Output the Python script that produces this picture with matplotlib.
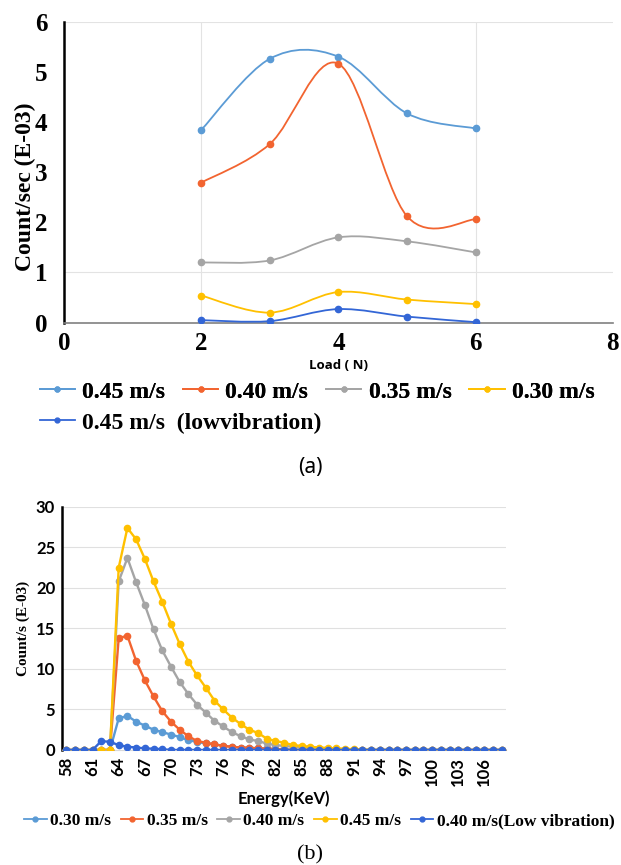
import numpy as np
import matplotlib
matplotlib.use("Agg")
import matplotlib.pyplot as plt
from matplotlib.path import Path
from matplotlib.patches import PathPatch
from matplotlib.lines import Line2D

# ---- data: panel (a), count rate vs load ----
load = [2, 3, 4, 5, 6]
a_labels = ["0.45 m/s", "0.40 m/s", "0.35 m/s", "0.30 m/s", "0.45 m/s  (lowvibration)"]
a_045 = [3.84, 5.26, 5.30, 4.17, 3.87]
a_040 = [2.79, 3.56, 5.16, 2.12, 2.06]
a_035 = [1.20, 1.24, 1.70, 1.62, 1.40]
a_030 = [0.54, 0.20, 0.61, 0.46, 0.37]
a_045_low = [0.05, 0.03, 0.27, 0.12, 0.01]

# ---- data: panel (b), spectrum vs energy ----
energy = list(range(58, 109))
b_labels = ["0.30 m/s", "0.35 m/s", "0.40 m/s", "0.45 m/s", "0.40 m/s(Low vibration)"]
b_030 = [0, 0, 0, 0, 0, 0, 3.9, 4.2, 3.5, 3.0, 2.5, 2.2, 1.9, 1.6, 1.2, 1.0,
         0.8, 0.7, 0.5, 0.4, 0.3, 0.3, 0.2, 0.2, 0.1, 0.1] + [0] * 25
b_035 = [0, 0, 0, 0, 0, 0, 13.8, 14.1, 11.0, 8.6, 6.6, 4.8, 3.5, 2.5, 1.7, 1.1,
         0.9, 0.7, 0.5, 0.4, 0.3, 0.25, 0.2, 0.15, 0.1, 0.05] + [0] * 25
b_040 = [0, 0, 0, 0, 0, 0, 20.8, 23.7, 20.7, 17.9, 14.9, 12.3, 10.3, 8.4, 6.9,
         5.6, 4.6, 3.6, 2.9, 2.2, 1.7, 1.3, 1.1, 0.8, 0.6, 0.5, 0.4, 0.3, 0.2,
         0.15, 0.1, 0.05] + [0] * 19
b_045 = [0, 0, 0, 0, 0, 0, 22.5, 27.4, 26.0, 23.6, 20.8, 18.3, 15.6, 13.1, 10.9,
         9.2, 7.7, 6.1, 5.0, 4.0, 3.2, 2.5, 2.1, 1.4, 1.1, 0.9, 0.6, 0.5, 0.4,
         0.3, 0.25, 0.2, 0.15, 0.1, 0.05] + [0] * 16
b_040_low = [0, 0, 0, 0, 1.1, 1.0, 0.6, 0.4, 0.3, 0.2, 0.15, 0.1] + [0] * 39
b_ticks = list(range(58, 107, 3))

colors = ["#5B9BD5", "#F26430", "#A5A5A5", "#FFC000", "#3366D6"]
serif = "Liberation Serif"


def smooth_path(x, y):
    # bezier path through points (like a smoothed office line)
    verts = [(x[0], y[0])]
    codes = [Path.MOVETO]
    n = len(x)
    for i in range(n - 1):
        p0 = i - 1 if i > 0 else i
        p3 = i + 2 if i + 2 < n else i + 1
        c1 = (x[i] + (x[i + 1] - x[p0]) / 6, y[i] + (y[i + 1] - y[p0]) / 6)
        c2 = (x[i + 1] - (x[p3] - x[i]) / 6, y[i + 1] - (y[p3] - y[i]) / 6)
        verts += [c1, c2, (x[i + 1], y[i + 1])]
        codes += [Path.CURVE4] * 3
    return Path(verts, codes)


fig = plt.figure(figsize=(6.21, 8.65), dpi=100)

# ---------------- panel (a) ----------------
ax1 = fig.add_axes([0.103, 0.627, 0.884, 0.348])
a_series = [a_045, a_040, a_035, a_030, a_045_low]
handles = []
for vals, c, lab in zip(a_series, colors, a_labels):
    ax1.add_patch(PathPatch(smooth_path(load, vals), fc="none", ec=c, lw=1.3, zorder=3))
    ax1.plot(load, vals, "o", color=c, ms=4.5, zorder=4)
    handles.append(Line2D([], [], color=c, lw=1.3, marker="o", ms=3.5))

ax1.set_xlim(0, 8)
ax1.set_ylim(0, 6)
ax1.set_xticks([0, 2, 4, 6, 8])
ax1.set_yticks([0, 1, 2, 3, 4, 5, 6])
for x in [2, 6]:
    ax1.axvline(x, color="#E3E3E3", lw=0.8, zorder=0)
for y in [1, 6]:
    ax1.axhline(y, color="#E3E3E3", lw=0.8, zorder=0)
for s in ["top", "right"]:
    ax1.spines[s].set_visible(False)
ax1.spines["left"].set_color("black")
ax1.spines["left"].set_linewidth(1.8)
ax1.spines["bottom"].set_color("#808080")
ax1.spines["bottom"].set_linewidth(1.2)
ax1.tick_params(axis="y", length=0, pad=12)
ax1.tick_params(axis="x", length=0, pad=7)
for t in ax1.get_xticklabels() + ax1.get_yticklabels():
    t.set_fontfamily(serif)
    t.set_fontweight("bold")
    t.set_fontsize(18)
ax1.set_xlabel("Load ( N)", fontsize=9.5, fontweight="bold", family="Open Sans")
ax1.xaxis.set_label_coords(0.5, -0.122)
ax1.set_ylabel("Count/sec (E-03)", fontsize=17, fontweight="bold", family=serif)
ax1.yaxis.label.set_va("center")
ax1.yaxis.set_label_coords(-0.07, 0.45)

leg_a = dict(frameon=False, prop={"family": serif, "weight": "bold", "size": 17},
             handlelength=1.5, handletextpad=0.3, borderpad=0)
lg1 = fig.legend(handles[:4], a_labels[:4], loc="center left",
                 bbox_to_anchor=(0.045, 0.547), ncol=4, columnspacing=0.75, **leg_a)
fig.add_artist(lg1)
fig.legend(handles[4:], a_labels[4:], loc="center left",
           bbox_to_anchor=(0.045, 0.511), **leg_a)
fig.text(0.5, 0.459, "(a)", ha="center", va="center", fontsize=15, family="Noto Sans")

# ---------------- panel (b) ----------------
ax2 = fig.add_axes([0.1, 0.133, 0.715, 0.281])
idx = np.arange(len(energy))
b_series = [b_030, b_035, b_040, b_045, b_040_low]
handles2 = []
for vals, c, lab in zip(b_series, colors, b_labels):
    ax2.plot(idx, vals, "-o", color=c, lw=1.7, ms=4.5, zorder=3)
    handles2.append(Line2D([], [], color=c, lw=1.3, marker="o", ms=3.5))

ax2.set_xlim(-0.5, len(energy) - 0.5)
ax2.set_ylim(0, 30)
ax2.set_yticks([0, 5, 10, 15, 20, 25, 30])
ax2.set_xticks([energy.index(v) for v in b_ticks])
ax2.set_xticklabels([str(v) for v in b_ticks], rotation=90)
ax2.yaxis.grid(True, color="#E0E0E0", lw=0.8, zorder=0)
ax2.set_axisbelow(True)
for s in ["top", "right"]:
    ax2.spines[s].set_visible(False)
ax2.spines["left"].set_color("black")
ax2.spines["left"].set_linewidth(1.8)
ax2.spines["bottom"].set_color("#D9D9D9")
ax2.tick_params(length=0, pad=5)
for t in ax2.get_xticklabels() + ax2.get_yticklabels():
    t.set_fontfamily("Lato")
    t.set_fontweight("bold")
    t.set_fontsize(12)
ax2.set_xlabel("Energy(KeV)", fontsize=12, fontweight="bold", family="Lato", labelpad=3)
ax2.set_ylabel("Count/s (E-03)", fontsize=11, fontweight="bold", family=serif, labelpad=4)

fig.legend(handles2, b_labels, loc="center left", bbox_to_anchor=(0.025, 0.051),
           ncol=5, frameon=False, prop={"family": serif, "weight": "bold", "size": 12.5},
           handlelength=1.3, handletextpad=0.2, columnspacing=0.55, borderpad=0)
fig.text(0.5, 0.012, "(b)", ha="center", va="center", fontsize=16, family=serif)

fig.savefig("out.png", dpi=100)
